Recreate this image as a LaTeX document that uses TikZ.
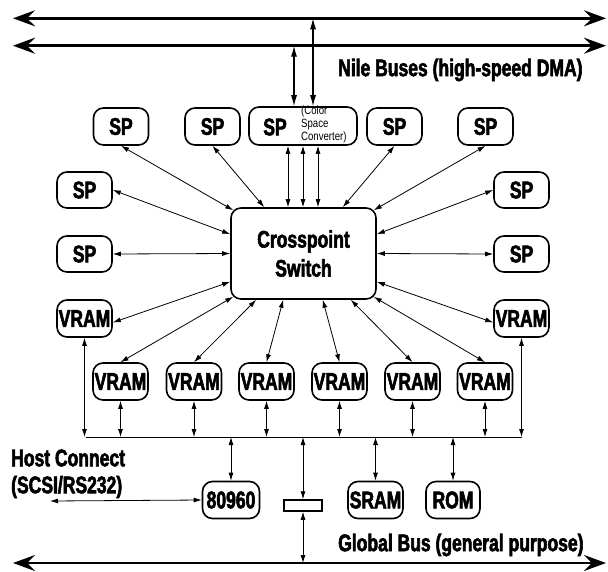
\documentclass[tikz,border=0pt]{standalone}
\usepackage{fontspec}
\usetikzlibrary{arrows.meta,calc}
\newfontfamily\hvb[FakeStretch=0.73,FakeBold=2.4]{Liberation Sans Bold}
\newfontfamily\hvn[FakeStretch=0.8]{Liberation Sans}
\begin{document}
\begin{tikzpicture}[x=1pt,y=-1pt,
  box/.style={draw,line width=1.6pt,rounded corners=10pt,minimum width=55pt,minimum height=37pt,inner sep=0pt,font=\hvb\fontsize{24}{24}\selectfont},
  lbl/.style={font=\hvb\fontsize{24}{24}\selectfont,inner sep=0pt},
  conn/.style={line width=0.8pt,{Latex[length=8pt,width=5pt]}-{Latex[length=8pt,width=5pt]}},
  vconn/.style={line width=1.1pt,{Latex[length=11pt,width=6pt]}-{Latex[length=11pt,width=6pt]}},
  bus/.style={line width=2.8pt,{Stealth[length=22pt,width=16pt,inset=8pt]}-{Stealth[length=22pt,width=16pt,inset=8pt]}},
  thinline/.style={line width=0.8pt}]
\useasboundingbox (0,0) rectangle (608,571);

% buses
\coordinate (n1L) at (13,18.3); \coordinate (n1R) at (606,18.3);
\coordinate (n2L) at (13,45.7); \coordinate (n2R) at (606,45.7);
\coordinate (gL) at (13,563); \coordinate (gR) at (606,563);
\draw[bus] (n1L) -- (n1R);
\draw[bus] (n2L) -- (n2R);
\draw[bus] (gL) -- (gR);
\node[lbl,anchor=west] (nile) at (338,70) {Nile Buses (high-speed DMA)};
\node[lbl,anchor=west] (glob) at (338,545) {Global Bus (general purpose)};

% top row
\node[box] (SP1) at (121,126.5) {SP};
\node[box] (SP2) at (212.5,126.5) {SP};
\node[box,minimum width=108pt,minimum height=38pt] (CSC) at (303,126) {};
\node[lbl] (cscsp) at (275,127) {SP};
\node[font=\hvn\fontsize{12}{13}\selectfont,align=left,inner sep=0pt,anchor=north west] (csct) at (301,106) {(Color\\Space\\Converter)};
\node[box] (SP4) at (394.5,126.5) {SP};
\node[box] (SP5) at (485.5,126.5) {SP};
\node[box,minimum height=36pt] (LSP2) at (84.5,190) {SP};
\node[box,minimum height=36pt] (LSP3) at (84.5,254) {SP};
\node[box,minimum height=36pt] (RSP2) at (521.5,190) {SP};
\node[box,minimum height=36pt] (RSP3) at (521.5,254) {SP};

% switch
\node[box,minimum width=145pt,minimum height=91pt,align=center,font=\hvb\fontsize{24}{29}\selectfont] (sw) at (303.5,253.5) {Crosspoint\\Switch};

% VRAMs
\node[box] (LV) at (84.5,318.5) {VRAM};
\node[box] (RV) at (521.5,318.5) {VRAM};
\node[box] (V1) at (120.5,381.5) {VRAM};
\node[box] (V2) at (194,381.5) {VRAM};
\node[box] (V3) at (266.5,381.5) {VRAM};
\node[box] (V4) at (339.5,381.5) {VRAM};
\node[box] (V5) at (412.5,381.5) {VRAM};
\node[box] (V6) at (485,381.5) {VRAM};

% bottom boxes
\node[box,minimum width=57pt] (CPU) at (231,500) {80960};
\node[box] (SRAM) at (375.5,500) {SRAM};
\node[box,minimum width=54pt] (ROM) at (453,500) {ROM};
\node[draw,line width=1.5pt,minimum width=38pt,minimum height=11pt,inner sep=0pt] (br) at (303,505.5) {};

\node[lbl,anchor=west] (host1) at (11,458) {Host Connect};
\node[lbl,anchor=west] (host2) at (11,487) {(SCSI/RS232)};
\coordinate (hc) at (50,501);

% Nile verticals
\draw[vconn] ([xshift=-9pt]CSC.north) -- ([xshift=-9pt]CSC.north |- n2L);
\draw[vconn] ([xshift=10pt]CSC.north) -- ([xshift=10pt]CSC.north |- n1L);

% connectors to switch
\draw[conn] (SP1.south) -- ([shift={(3,3)}]sw.north west);
\draw[conn] (SP2.south) -- ([shift={(34,0)}]sw.north west);
\foreach \dx in {-15,0,15}
  \draw[conn] ([xshift=\dx pt]CSC.south) -- ([xshift=\dx pt]CSC.south |- sw.north);
\draw[conn] (SP4.south) -- ([shift={(-34,0)}]sw.north east);
\draw[conn] (SP5.south) -- ([shift={(-3,3)}]sw.north east);
\draw[conn] (LSP2.east) -- ([shift={(0,27)}]sw.north west);
\draw[conn] (LSP3.east) -- (sw.west);
\draw[conn] (RSP2.west) -- ([shift={(0,27)}]sw.north east);
\draw[conn] (RSP3.west) -- (sw.east);
\draw[conn] ([yshift=-4pt]LV.east) -- ([shift={(0,-18)}]sw.south west);
\draw[conn] (V1.north) -- ([shift={(3,-3)}]sw.south west);
\draw[conn] (V2.north) -- ([shift={(26,0)}]sw.south west);
\draw[conn] (V3.north) -- ([shift={(53,0)}]sw.south west);
\draw[conn] (V4.north) -- ([shift={(-54,0)}]sw.south east);
\draw[conn] (V5.north) -- ([shift={(-26,0)}]sw.south east);
\draw[conn] (V6.north) -- ([shift={(-3,-3)}]sw.south east);
\draw[conn] ([yshift=-4pt]RV.west) -- ([shift={(0,-18)}]sw.south east);

% memory bus
\coordinate (mbL) at (85.5,437);
\coordinate (mbR) at (522,437);
\draw[thinline] (mbL) -- (mbR);
\draw[conn] (LV.south) -- (LV.south |- mbL);
\draw[conn] (RV.south) -- (RV.south |- mbL);
\foreach \v in {V1,V2,V3,V4,V5,V6}
  \draw[conn] (\v.south) -- (\v.south |- mbL);
\draw[conn] (CPU.north) -- (CPU.north |- mbL);
\draw[conn] (SRAM.north) -- (SRAM.north |- mbL);
\draw[conn] (ROM.north) -- (ROM.north |- mbL);
\draw[conn] (br.north) -- (br.north |- mbL);
\draw[conn] (br.south) -- (br.south |- gL);
\draw[conn] (hc) -- (CPU.west);
\end{tikzpicture}
\end{document}
